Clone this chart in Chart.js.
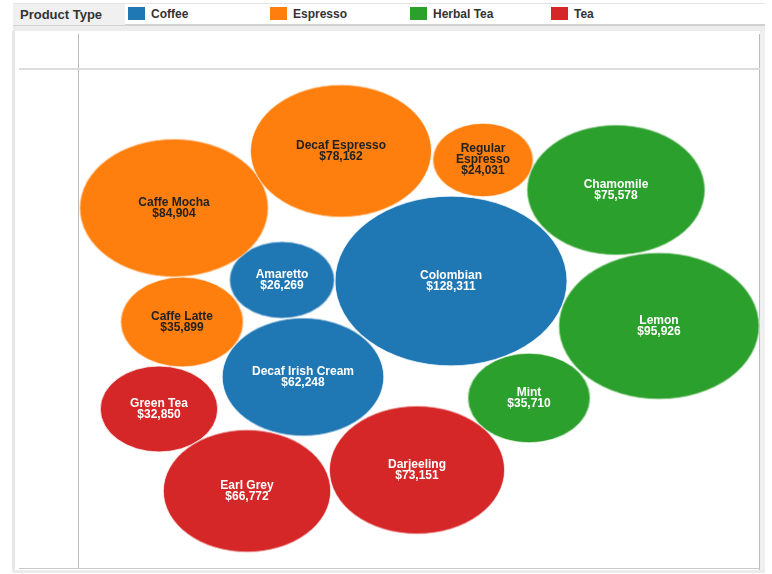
<!DOCTYPE html>
<html>
<head>
<meta charset="utf-8">
<script src="https://cdn.jsdelivr.net/npm/chart.js@4.4.1/dist/chart.umd.min.js"></script>
<style>
  html, body { margin: 0; padding: 0; background: #fff; }
  body { width: 772px; height: 574px; position: relative; overflow: hidden; font-family: "Liberation Sans", Arial, sans-serif; }
  .abs { position: absolute; }
  #legend { left: 13px; top: 3px; width: 752px; height: 21px; border-top: 1px solid #e4e4e4; }
  #legendTitle { left: 0; top: 0; width: 112px; height: 21px; background: #f0f0f0; color: #333; font-size: 13px; line-height: 21px; padding-left: 7px; box-sizing: border-box; font-weight: 600; }
  .sw { position: absolute; top: 3px; width: 17px; height: 13px; }
  .lt { position: absolute; top: 0; line-height: 20px; font-size: 12px; font-weight: bold; color: #333; }
  #chartWrap { left: 0; top: 0; width: 772px; height: 574px; }
</style>
</head>
<body>
<div class="abs" style="left:13px;top:24px;width:752px;height:2px;background:#d2d2d2"></div>
<div class="abs" style="left:13px;top:26px;width:752px;height:5px;background:#ececec"></div>
<div class="abs" style="left:12px;top:31px;width:3px;height:542px;background:#e6e6e6"></div>
<div class="abs" style="left:760px;top:31px;width:5px;height:542px;background:#efefef"></div>
<div class="abs" style="left:12px;top:570px;width:753px;height:3px;background:#ececec"></div>
<div class="abs" style="left:759px;top:34px;width:1px;height:536px;background:#bdbdbd"></div>
<div class="abs" style="left:19px;top:568px;width:741px;height:1px;background:#c8c8c8"></div>
<div class="abs" style="left:78px;top:34px;width:1px;height:534px;background:#bbbbbb"></div>
<div class="abs" style="left:19px;top:68px;width:741px;height:2px;background:#dcdcdc"></div>
<div id="legend" class="abs">
  <div id="legendTitle" class="abs">Product Type</div>
  <div id="legendItems"></div>
</div>
<div id="chartWrap" class="abs"><canvas id="c" width="772" height="574"></canvas></div>
<script>
// ---- data ----
const products = ["Colombian", "Amaretto", "Decaf Irish Cream",
  "Caffe Mocha", "Decaf Espresso", "Regular Espresso", "Caffe Latte",
  "Chamomile", "Lemon", "Mint",
  "Green Tea", "Earl Grey", "Darjeeling"];
const productTypes = ["Coffee", "Coffee", "Coffee",
  "Espresso", "Espresso", "Espresso", "Espresso",
  "Herbal Tea", "Herbal Tea", "Herbal Tea",
  "Tea", "Tea", "Tea"];
const sales = [128311, 26269, 62248,
  84904, 78162, 24031, 35899,
  75578, 95926, 35710,
  32850, 66772, 73151];
const typeNames = ["Coffee", "Espresso", "Herbal Tea", "Tea"];

// packed-bubble layout (centres in plot units)
const layoutX = [372, 203, 224, 95, 262, 404, 103, 537, 580, 450, 80, 168, 338];
const layoutY = [212, 211, 308, 139, 82, 91, 253, 121, 257, 329, 340, 422, 401];

// ---- styles ----
const typeColors = { "Coffee": "#1f77b4", "Espresso": "#ff7f0e", "Herbal Tea": "#2ca02c", "Tea": "#d62728" };
const typeText = { "Coffee": "#ffffff", "Espresso": "#222222", "Herbal Tea": "#ffffff", "Tea": "#ffffff" };
const legendX = [115, 257, 397, 538];
const K = 0.3238, ASPECT = 1.367;

// legend
const li = document.getElementById('legendItems');
typeNames.forEach((t, i) => {
  const s = document.createElement('div'); s.className = 'sw';
  s.style.left = legendX[i] + 'px'; s.style.background = typeColors[t];
  const l = document.createElement('div'); l.className = 'lt';
  l.style.left = (legendX[i] + 23) + 'px'; l.textContent = t;
  li.appendChild(s); li.appendChild(l);
});

function ellipseImg(rx, ry, color) {
  const cv = document.createElement('canvas');
  const w = Math.ceil(rx * 2) + 2, h = Math.ceil(ry * 2) + 2;
  cv.width = w; cv.height = h;
  const g = cv.getContext('2d');
  g.fillStyle = color;
  g.beginPath();
  g.ellipse(w / 2, h / 2, rx, ry, 0, 0, Math.PI * 2);
  g.fill();
  g.strokeStyle = 'rgba(255,255,255,0.7)';
  g.lineWidth = 1;
  g.stroke();
  return cv;
}

const points = products.map((p, i) => ({ x: layoutX[i], y: layoutY[i], r: K * Math.sqrt(sales[i]) }));
const images = products.map((p, i) => {
  const rx = K * Math.sqrt(sales[i]);
  return ellipseImg(rx, rx / ASPECT, typeColors[productTypes[i]]);
});

const labelPlugin = {
  id: 'bubbleLabels',
  afterDatasetsDraw(chart) {
    const ctx = chart.ctx;
    const meta = chart.getDatasetMeta(0);
    ctx.save();
    ctx.font = 'bold 12px "Liberation Sans", Arial, sans-serif';
    ctx.textAlign = 'center';
    ctx.textBaseline = 'middle';
    meta.data.forEach((el, i) => {
      const rx = K * Math.sqrt(sales[i]);
      let lines;
      const name = products[i];
      if (ctx.measureText(name).width > rx * 1.6 && name.includes(' ')) {
        lines = name.split(' ');
      } else {
        lines = [name];
      }
      lines.push('$' + sales[i].toLocaleString('en-US'));
      const lh = 11;
      const y0 = el.y - (lines.length - 1) * lh / 2;
      ctx.fillStyle = typeText[productTypes[i]];
      lines.forEach((ln, j) => ctx.fillText(ln, el.x, y0 + j * lh));
    });
    ctx.restore();
  }
};

new Chart(document.getElementById('c'), {
  type: 'bubble',
  data: {
    datasets: [{
      data: points,
      pointStyle: images,
      backgroundColor: productTypes.map(t => typeColors[t]),
      clip: false
    }]
  },
  options: {
    responsive: false,
    animation: false,
    events: [],
    layout: { autoPadding: false, padding: { left: 79, right: 13, top: 69, bottom: 6 } },
    scales: {
      x: { type: 'linear', min: 0, max: 680, display: false },
      y: { type: 'linear', min: 0, max: 499, reverse: true, display: false }
    },
    plugins: { legend: { display: false }, tooltip: { enabled: false } }
  },
  plugins: [labelPlugin]
});
</script>
</body>
</html>
